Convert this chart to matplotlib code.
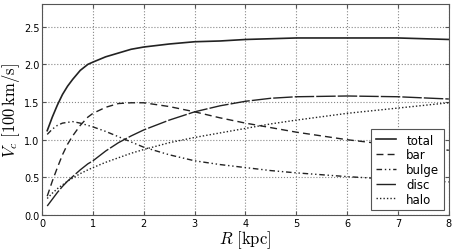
import matplotlib
matplotlib.use("Agg")
import matplotlib.pyplot as plt

# rotation curve components
R = [0.1, 0.2, 0.3, 0.4, 0.5, 0.6, 0.75, 0.9, 1.0, 1.25, 1.5, 1.75, 2.0,
     2.5, 3.0, 3.5, 4.0, 4.5, 5.0, 6.0, 7.0, 8.0]
total = [1.12, 1.30, 1.46, 1.60, 1.71, 1.80, 1.92, 2.00, 2.03, 2.10, 2.15, 2.20, 2.23,
         2.27, 2.30, 2.31, 2.33, 2.34, 2.35, 2.35, 2.35, 2.33]
bar = [0.25, 0.45, 0.63, 0.80, 0.94, 1.05, 1.19, 1.30, 1.35, 1.43, 1.48, 1.49, 1.49,
       1.44, 1.37, 1.29, 1.22, 1.16, 1.10, 1.00, 0.92, 0.86]
bulge = [1.07, 1.14, 1.19, 1.22, 1.23, 1.24, 1.22, 1.19, 1.17, 1.11, 1.04, 0.97, 0.90,
         0.80, 0.72, 0.67, 0.63, 0.59, 0.56, 0.51, 0.47, 0.44]
disc = [0.12, 0.21, 0.30, 0.38, 0.45, 0.51, 0.60, 0.68, 0.72, 0.85, 0.96, 1.05, 1.13,
        1.26, 1.37, 1.45, 1.51, 1.55, 1.57, 1.58, 1.57, 1.54]
halo = [0.22, 0.29, 0.35, 0.40, 0.45, 0.49, 0.55, 0.60, 0.63, 0.70, 0.76, 0.82, 0.87,
        0.96, 1.03, 1.09, 1.15, 1.21, 1.26, 1.35, 1.42, 1.49]

plt.rcParams["mathtext.fontset"] = "cm"
plt.rcParams["xtick.direction"] = "in"
plt.rcParams["ytick.direction"] = "in"

fig = plt.figure(figsize=(4.58, 2.53), dpi=100)
ax = fig.add_axes([0.092, 0.146, 0.888, 0.834])

col = "#222222"
ax.plot(R, total, color=col, lw=1.2, label="total")
ax.plot(R, bar, color=col, lw=1.0, linestyle=(0, (5, 3)), label="bar")
ax.plot(R, bulge, color=col, lw=1.0, linestyle=(0, (4, 2, 1, 2, 1, 2)), label="bulge")
ax.plot(R, disc, color=col, lw=1.0, linestyle=(0, (14, 1.5)), label="disc")
ax.plot(R, halo, color=col, lw=1.0, linestyle=(0, (1, 1.5)), label="halo")

ax.set_xlim(0, 8)
ax.set_ylim(0, 2.8)
ax.set_xticks(range(0, 9))
ax.set_yticks([0.0, 0.5, 1.0, 1.5, 2.0, 2.5])
ax.set_yticklabels(["0.0", "0.5", "1.0", "1.5", "2.0", "2.5"])
ax.tick_params(labelsize=7, length=3, color="#555555", top=True, right=True, pad=2)
ax.grid(True, color="#888888", linestyle=":", lw=0.8)
for s in ax.spines.values():
    s.set_color("#555555")

ax.set_xlabel(r"$R\ [\mathrm{kpc}]$", fontsize=12, labelpad=0)
ax.set_ylabel(r"$V_c\ [100\,\mathrm{km/s}]$", fontsize=12, labelpad=1)

leg = ax.legend(loc="lower right", fontsize=8.5, fancybox=False, framealpha=1,
                handlelength=1.7, borderaxespad=0.4, labelspacing=0.15,
                handletextpad=0.9, borderpad=0.4)
leg.get_frame().set_edgecolor("#555555")
leg.get_frame().set_linewidth(0.8)

fig.savefig("out.png", dpi=100)
